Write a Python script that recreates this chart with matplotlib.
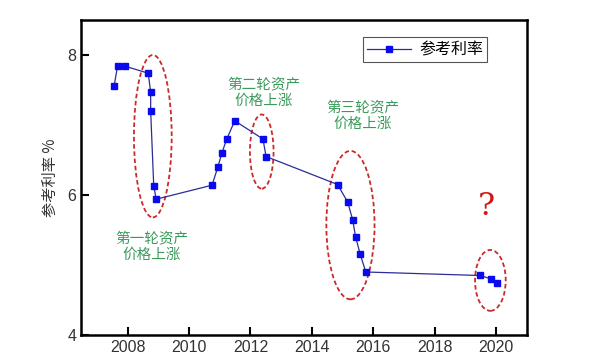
import matplotlib
matplotlib.use("Agg")
import matplotlib.pyplot as plt
from matplotlib.patches import Ellipse

plt.rcParams['font.family'] = ['Noto Sans CJK SC', 'DejaVu Sans']

# reference rate
years = [2007.56, 2007.67, 2007.92, 2008.67, 2008.75, 2008.75, 2008.85, 2008.93,
         2010.75, 2010.94, 2011.07, 2011.23, 2011.49, 2012.41, 2012.51,
         2014.84, 2015.17, 2015.33, 2015.43, 2015.58, 2015.76,
         2019.49, 2019.85, 2020.03]
rate = [7.56, 7.84, 7.84, 7.74, 7.47, 7.20, 6.13, 5.94,
        6.14, 6.40, 6.60, 6.80, 7.06, 6.80, 6.55,
        6.15, 5.90, 5.65, 5.40, 5.15, 4.90,
        4.85, 4.80, 4.74]

# highlighted periods: (x centre, y centre, width, height)
ellipses = [(2008.82, 6.84, 1.23, 2.32),
            (2012.37, 6.62, 0.77, 1.06),
            (2015.26, 5.57, 1.57, 2.12),
            (2019.82, 4.78, 1.00, 0.87)]
notes = [("第一轮资产\n价格上涨", 2008.78, 5.26),
         ("第二轮资产\n价格上涨", 2012.44, 7.46),
         ("第三轮资产\n价格上涨", 2015.65, 7.13)]

fig = plt.figure(figsize=(5.93, 3.64), dpi=100)
ax = fig.add_axes([0.1366, 0.0797, 0.7514, 0.8653])

ax.plot(years, rate, '-', color='#2b2b9a', lw=0.9, marker='s', markersize=5,
        markerfacecolor='#0a0aef', markeredgecolor='#0a0aef', label='参考利率')

for xc, yc, w, h in ellipses:
    ax.add_patch(Ellipse((xc, yc), w, h, fill=False, ec='#cc2a2a', ls=(0, (2.5, 1.5)), lw=1.3))

for txt, x, y in notes:
    ax.text(x, y, txt, color='#3a9a5a', fontsize=10.5, ha='center', va='center', linespacing=1.25)

ax.text(2019.7, 5.83, '?', color='#d01818', fontsize=23, ha='center', va='center',
        family='DejaVu Serif')

ax.set_xlim(2006.48, 2021.0)
ax.set_ylim(4, 8.5)
ax.set_xticks([2008, 2010, 2012, 2014, 2016, 2018, 2020])
ax.set_yticks([4, 6, 8])
ax.tick_params(direction='in', length=6, width=1.5, labelsize=11.5, labelcolor='#333333')
for lab in ax.get_xticklabels() + ax.get_yticklabels():
    lab.set_family('Liberation Sans')
for s in ax.spines.values():
    s.set_linewidth(1.8)
ax.set_ylabel('参考利率 %', fontsize=11, color='#333333', labelpad=6)

leg = ax.legend(loc='upper right', bbox_to_anchor=(0.93, 0.97), fontsize=11.5,
                fancybox=False, framealpha=1, edgecolor='#555555', handlelength=2.8,
                borderpad=0.25, handletextpad=0.5)
leg.get_frame().set_linewidth(0.8)

fig.savefig('out.png', dpi=100)
